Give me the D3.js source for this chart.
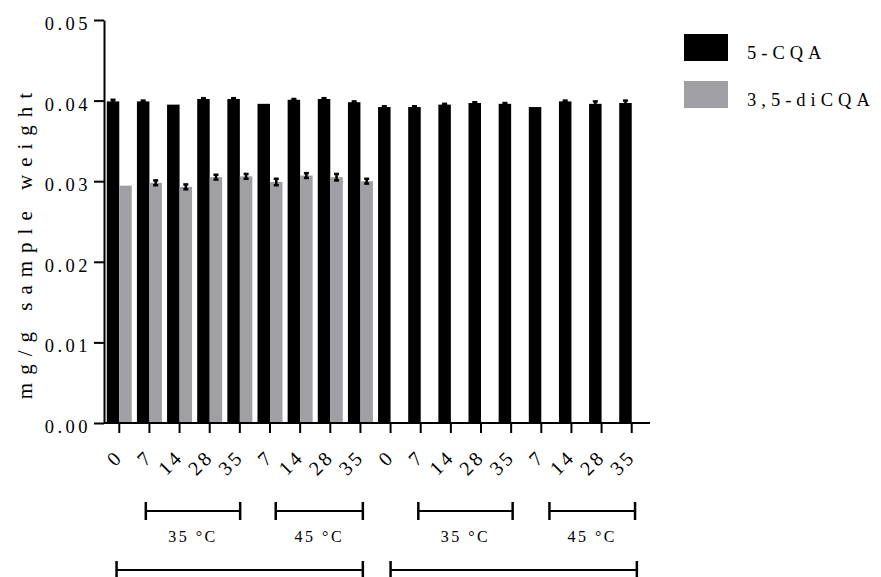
<!DOCTYPE html>
<html><head><meta charset="utf-8">
<script src="https://cdn.jsdelivr.net/npm/d3@7"></script>
<style>
html,body{margin:0;padding:0;background:#fff;}
svg{display:block;}
#chart text{font-family:"Liberation Serif","Times New Roman",serif;fill:#000;}
</style></head><body>
<svg id="chart" width="881" height="577"></svg>
<script>
// Storage day for each bar position
const dayLabels = ["0","7","14","28","35","7","14","28","35","0","7","14","28","35","7","14","28","35"];
const seriesNames = ["5-CQA", "3,5-diCQA"];
const seriesColors = ["#000000", "#a09fa4"];
// 5-CQA content (mg/g sample weight) and SD
const cqaValues = [0.0399,0.0399,0.0395,0.0402,0.0402,0.0396,0.0401,0.0402,0.0398,0.0392,0.0392,0.0395,0.0397,0.0396,0.0392,0.0399,0.0396,0.0397];
const cqaErrors = [0.0002,0.0001,0,0.0001,0.0001,0,0.0001,0.0001,0.0001,0.0001,0.0001,0.0001,0.0001,0.0001,0,0.0001,0.0003,0.0003];
// 3,5-diCQA content, measured for the first nine samples only
const dicqaValues = [0.02945,0.0298,0.0293,0.0305,0.0306,0.0299,0.0307,0.0305,0.0300];
const dicqaErrors = [0,0.0003,0.0003,0.0003,0.0003,0.0004,0.0003,0.0004,0.0003];
const yTicks = [0, 0.01, 0.02, 0.03, 0.04, 0.05];
// Temperature groupings (in bar-index units) and the two outer groupings
const tempGroups = [
  {label: "35 °C", from: 0.88, to: 4.01},
  {label: "45 °C", from: 5.19, to: 8.08},
  {label: "35 °C", from: 9.92, to: 13.05},
  {label: "45 °C", from: 14.27, to: 17.11}
];
const outerGroups = [
  {from: -0.09, to: 8.08},
  {from: 9.0, to: 17.17}
];

const svg = d3.select("#chart");
const axisLeftX = 104, axisBottomY = 423, topY = 20;

const y = d3.scaleLinear().domain([0, 0.05]).range([axisBottomY, topY]);
const x = d3.scaleBand().domain(d3.range(dayLabels.length)).range([104.2, 646.8]).padding(0);
const step = x.step();
const xs = d3.scaleBand().domain(seriesNames).range([step / 2 - 12.5, step / 2 + 12.5]).padding(0);
const color = d3.scaleOrdinal().domain(seriesNames).range(seriesColors);
const idxX = d3.scaleLinear().domain([0, dayLabels.length - 1])
  .range([x(0) + step / 2, x(dayLabels.length - 1) + step / 2]);

const series = [
  {name: seriesNames[0], values: cqaValues, errors: cqaErrors},
  {name: seriesNames[1], values: dicqaValues, errors: dicqaErrors}
];

// Bars
series.forEach(s => {
  const data = s.values.map((v, i) => ({i, v, e: s.errors[i]}));
  svg.append("g").selectAll("rect").data(data).join("rect")
    .attr("x", d => x(d.i) + xs(s.name))
    .attr("width", xs.bandwidth())
    .attr("y", d => y(d.v))
    .attr("height", d => y(0) - y(d.v))
    .attr("fill", color(s.name));
});

// Error bars
series.forEach(s => {
  const data = s.values.map((v, i) => ({i, v, e: s.errors[i]})).filter(d => d.e > 0);
  const g = svg.append("g").attr("stroke", "#000").attr("stroke-width", 2.5);
  data.forEach(d => {
    const cx = x(d.i) + xs(s.name) + xs.bandwidth() / 2;
    g.append("line").attr("x1", cx).attr("x2", cx).attr("y1", y(d.v - d.e)).attr("y2", y(d.v + d.e));
    g.append("line").attr("x1", cx - 2.5).attr("x2", cx + 2.5).attr("y1", y(d.v + d.e)).attr("y2", y(d.v + d.e));
    g.append("line").attr("x1", cx - 2.5).attr("x2", cx + 2.5).attr("y1", y(d.v - d.e)).attr("y2", y(d.v - d.e));
  });
});

// Y axis
const yAxis = svg.append("g").attr("transform", `translate(${axisLeftX},0)`)
  .call(d3.axisLeft(y).tickValues(yTicks).tickFormat(d3.format(".2f")).tickSize(10).tickSizeOuter(0));
yAxis.select(".domain").attr("stroke-width", 2);
yAxis.selectAll(".tick line").attr("stroke-width", 2);
yAxis.selectAll(".tick text")
  .attr("x", -13).attr("dy", null).attr("y", 9.5)
  .attr("font-size", 18.5).attr("letter-spacing", "3.5px");

// X axis
const xAxis = svg.append("g").attr("transform", `translate(0,${axisBottomY})`)
  .call(d3.axisBottom(x).tickFormat(i => dayLabels[i]).tickSize(10).tickSizeOuter(0));
xAxis.select(".domain").attr("d", `M${axisLeftX},0H650`).attr("stroke-width", 2);
xAxis.selectAll(".tick line").attr("stroke-width", 2);
xAxis.selectAll(".tick text")
  .attr("y", null).attr("dy", null)
  .attr("text-anchor", "end")
  .attr("transform", "translate(5,35) rotate(-45)")
  .attr("font-size", 20).attr("letter-spacing", "3px");

// Y axis title
svg.append("text")
  .attr("transform", "translate(32,242) rotate(-90)")
  .attr("text-anchor", "middle")
  .attr("font-size", 21).attr("letter-spacing", "8px")
  .text("mg/g sample weight");

// Temperature brackets
const bg = svg.append("g").attr("stroke", "#000");
tempGroups.forEach(g => {
  const x1 = idxX(g.from), x2 = idxX(g.to), yy = 511;
  bg.append("line").attr("x1", x1).attr("x2", x2).attr("y1", yy).attr("y2", yy).attr("stroke-width", 2);
  bg.append("line").attr("x1", x1).attr("x2", x1).attr("y1", yy - 9).attr("y2", yy + 9).attr("stroke-width", 2.5);
  bg.append("line").attr("x1", x2).attr("x2", x2).attr("y1", yy - 9).attr("y2", yy + 9).attr("stroke-width", 2.5);
  svg.append("text").attr("x", (x1 + x2) / 2).attr("y", 542)
    .attr("text-anchor", "middle").attr("font-size", 16).attr("letter-spacing", "2.5px")
    .text(g.label);
});
outerGroups.forEach(g => {
  const x1 = idxX(g.from), x2 = idxX(g.to), yy = 570;
  bg.append("line").attr("x1", x1).attr("x2", x2).attr("y1", yy).attr("y2", yy).attr("stroke-width", 2);
  bg.append("line").attr("x1", x1).attr("x2", x1).attr("y1", yy - 9).attr("y2", yy + 12).attr("stroke-width", 2.5);
  bg.append("line").attr("x1", x2).attr("x2", x2).attr("y1", yy - 9).attr("y2", yy + 12).attr("stroke-width", 2.5);
});

// Legend
const legend = svg.append("g").attr("transform", "translate(684,34)");
seriesNames.forEach((name, i) => {
  const row = legend.append("g").attr("transform", `translate(0,${i * 47})`);
  row.append("rect").attr("width", 44).attr("height", 27).attr("fill", color(name));
  row.append("text").attr("x", 63).attr("y", 25)
    .attr("font-size", 18.5).attr("letter-spacing", "5px")
    .text(name);
});
</script>
</body></html>
